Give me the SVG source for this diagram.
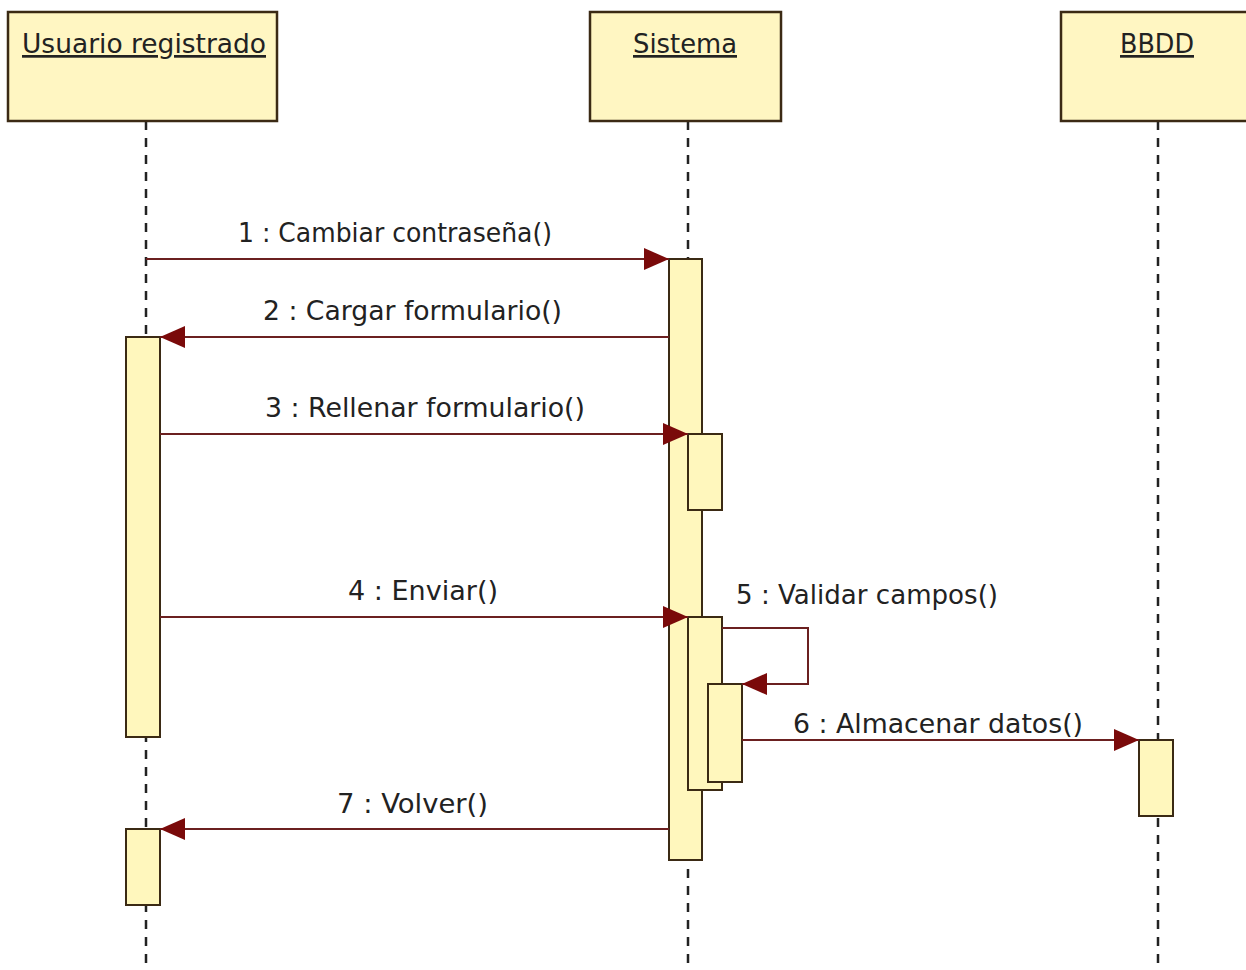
<svg xmlns="http://www.w3.org/2000/svg" width="1246" height="970" viewBox="0 0 1246 970">
<defs>
<marker id="ah" markerWidth="26" markerHeight="22" refX="25" refY="11" orient="auto" markerUnits="userSpaceOnUse">
<path d="M0,0 L25,11 L0,22 Z" fill="#7a0a0a"/>
</marker>
</defs>
<style>
.actor{fill:#fff6c2;stroke:#3b2a14;stroke-width:2.5}
.act{fill:#fff7bd;stroke:#3b2a14;stroke-width:2}
.life{stroke:#222;stroke-width:2.5;stroke-dasharray:9 8;fill:none}
.msg{stroke:#6b2020;stroke-width:2;fill:none;marker-end:url(#ah)}
.name{font-family:"DejaVu Sans",sans-serif;font-size:27px;fill:#222;text-decoration:underline}
.lbl{font-family:"DejaVu Sans",sans-serif;font-size:27px;fill:#222}
</style>
<rect width="1246" height="970" fill="#ffffff"/>
<g id="lifelines">
<line class="life" x1="146" y1="121" x2="146" y2="970"/>
<line class="life" x1="688" y1="121" x2="688" y2="970"/>
<line class="life" x1="1158" y1="121" x2="1158" y2="970"/>
</g>
<g id="usuario">
<rect class="actor" x="8" y="12" width="269" height="109"/>
<text class="name" x="22" y="53" textLength="244" lengthAdjust="spacingAndGlyphs">Usuario registrado</text>
</g>
<g id="sistema">
<rect class="actor" x="590" y="12" width="191" height="109"/>
<text class="name" x="633" y="53" textLength="104" lengthAdjust="spacingAndGlyphs">Sistema</text>
</g>
<g id="bbdd">
<rect class="actor" x="1061" y="12" width="200" height="109"/>
<text class="name" x="1120" y="53" textLength="74" lengthAdjust="spacingAndGlyphs">BBDD</text>
</g>
<g id="activations">
<rect class="act" x="126" y="337" width="34" height="400"/>
<rect class="act" x="126" y="829" width="34" height="76"/>
<rect class="act" x="669" y="259" width="33" height="601"/>
<rect class="act" x="688" y="434" width="34" height="76"/>
<rect class="act" x="688" y="617" width="34" height="173"/>
<rect class="act" x="708" y="684" width="34" height="98"/>
<rect class="act" x="1139" y="740" width="34" height="76"/>
</g>
<g id="connectors">
<line class="msg" x1="146" y1="259" x2="669" y2="259"/>
<line class="msg" x1="669" y1="337" x2="160" y2="337"/>
<line class="msg" x1="160" y1="434" x2="688" y2="434"/>
<line class="msg" x1="160" y1="617" x2="688" y2="617"/>
<polyline class="msg" points="722,628 808,628 808,684 742,684"/>
<line class="msg" x1="742" y1="740" x2="1139" y2="740"/>
<line class="msg" x1="669" y1="829" x2="160" y2="829"/>
</g>
<g id="labels">
<text class="lbl" x="238" y="242" textLength="314" lengthAdjust="spacingAndGlyphs">1 : Cambiar contraseña()</text>
<text class="lbl" x="263" y="320" textLength="299" lengthAdjust="spacingAndGlyphs">2 : Cargar formulario()</text>
<text class="lbl" x="265" y="417" textLength="320" lengthAdjust="spacingAndGlyphs">3 : Rellenar formulario()</text>
<text class="lbl" x="348" y="600" textLength="150" lengthAdjust="spacingAndGlyphs">4 : Enviar()</text>
<text class="lbl" x="736" y="604" textLength="262" lengthAdjust="spacingAndGlyphs">5 : Validar campos()</text>
<text class="lbl" x="793" y="733" textLength="290" lengthAdjust="spacingAndGlyphs">6 : Almacenar datos()</text>
<text class="lbl" x="337" y="813" textLength="151" lengthAdjust="spacingAndGlyphs">7 : Volver()</text>
</g>
</svg>
